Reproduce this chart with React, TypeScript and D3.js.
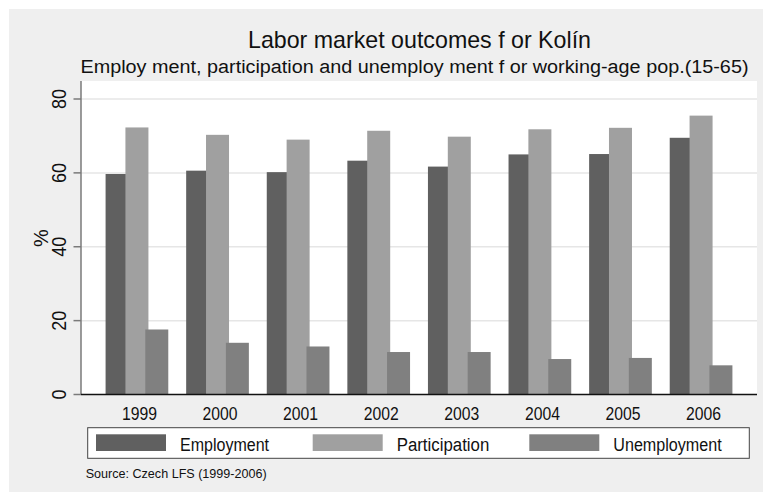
import React from "react";
import * as d3 from "d3";

const years = ["1999", "2000", "2001", "2002", "2003", "2004", "2005", "2006"];
const employment = [59.7, 60.6, 60.2, 63.3, 61.7, 65.0, 65.1, 69.5];
const participation = [72.3, 70.3, 69.0, 71.4, 69.8, 71.8, 72.2, 75.5];
const unemployment = [17.6, 14.0, 13.0, 11.5, 11.5, 9.6, 9.9, 7.9];
const seriesNames = ["Employment", "Participation", "Unemployment"];
const seriesColors = ["#606060", "#a0a0a0", "#808080"];
const yTicks = [0, 20, 40, 60, 80];

const W = 763;
const H = 494;
const FONT = "'Liberation Sans', Arial, Helvetica, sans-serif";

export default function App() {
  const left = 81, right = 757, top = 81, bottom = 394.5;
  const x = d3.scaleBand<string>().domain(years).range([left, right]).paddingInner(0.222).paddingOuter(0.305);
  const y = d3.scaleLinear().domain([0, 80]).range([bottom, 99]);
  const series = [employment, participation, unemployment];
  const bw = x.bandwidth();
  const barW = 23;
  const off = (bw - barW) / 2;

  const legendKeysX = [96, 312.7, 529.3];
  const legendLabelX = [180, 396.7, 613.3];
  const legendLabelLen = [89, 92.6, 108.4];

  return (
    <svg width={W} height={H} style={{ position: "absolute", left: 0, top: 0, display: "block" }} fontFamily={FONT}>
      <rect x={0} y={0} width={W} height={H} fill="#ffffff" />
      <rect x={9} y={9} width={W - 9} height={483} fill="#efefef" />
      <rect x={left} y={top} width={right - left} height={bottom - top} fill="#ffffff" />

      {/* gridlines */}
      {yTicks.filter((t) => t > 0).map((t) => (
        <line key={"g" + t} x1={left} x2={right} y1={y(t)} y2={y(t)} stroke="#e6e6e6" strokeWidth={1.5} />
      ))}

      {/* bars */}
      {series.map((vals, si) =>
        years.map((yr, i) => (
          <rect
            key={si + "-" + yr}
            x={(x(yr) as number) + si * off}
            y={y(vals[i])}
            width={barW}
            height={bottom - y(vals[i])}
            fill={seriesColors[si]}
          />
        ))
      )}

      {/* y axis */}
      <line x1={left} x2={left} y1={top} y2={bottom} stroke="#7a7a7a" strokeWidth={1.5} />
      {yTicks.map((t) => (
        <g key={"t" + t}>
          <line x1={73.5} x2={left} y1={y(t)} y2={y(t)} stroke="#7a7a7a" strokeWidth={1.5} />
          <text
            transform={`translate(65.5,${y(t)}) rotate(-90)`}
            textAnchor="middle"
            fontSize={20.5}
            textLength={String(t).length * 10}
            lengthAdjust="spacingAndGlyphs"
            fill="#111"
          >
            {t}
          </text>
        </g>
      ))}
      <text transform={`translate(48,238) rotate(-90)`} textAnchor="middle" fontSize={20} fill="#111">
        %
      </text>

      {/* x axis */}
      <line x1={left} x2={right} y1={bottom} y2={bottom} stroke="#111" strokeWidth={1.5} />
      {years.map((yr) => (
        <text
          key={"x" + yr}
          x={(x(yr) as number) + bw / 2 + 2.5}
          y={419.5}
          textAnchor="middle"
          fontSize={18.5}
          textLength={35}
          lengthAdjust="spacingAndGlyphs"
          fill="#111"
        >
          {yr}
        </text>
      ))}

      {/* titles */}
      <text x={248} y={48} fontSize={24} textLength={343} lengthAdjust="spacingAndGlyphs" fill="#111">
        Labor market outcomes f or Kolín
      </text>
      <text x={80.5} y={73.3} fontSize={18} textLength={668} lengthAdjust="spacingAndGlyphs" fill="#111">
        Employ ment, participation and unemploy ment f or working-age pop.(15-65)
      </text>

      {/* legend */}
      <rect x={87.7} y={427.7} width={661.6} height={30.6} fill="#ffffff" stroke="#444" strokeWidth={1} />
      {seriesNames.map((name, i) => (
        <g key={"l" + name}>
          <rect x={legendKeysX[i]} y={434.3} width={70} height={16.7} fill={seriesColors[i]} />
          <text
            x={legendLabelX[i]}
            y={450.5}
            fontSize={18}
            textLength={legendLabelLen[i]}
            lengthAdjust="spacingAndGlyphs"
            fill="#111"
          >
            {name}
          </text>
        </g>
      ))}

      {/* note */}
      <text x={85.7} y={478} fontSize={13.5} textLength={181} lengthAdjust="spacingAndGlyphs" fill="#111">
        Source: Czech LFS (1999-2006)
      </text>
    </svg>
  );
}
